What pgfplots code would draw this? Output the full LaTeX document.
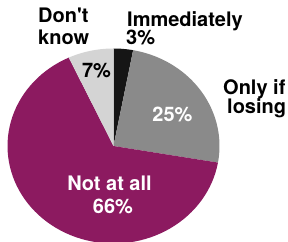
\documentclass[border=0pt]{standalone}
\usepackage{pgfplots}
\pgfplotsset{compat=1.18}
\usepackage{pgfplotstable}
\usepackage{fontspec}
\setmainfont{TeX Gyre Heros}
\definecolor{pblack}{HTML}{151515}
\definecolor{pgray}{HTML}{8A8A8A}
\definecolor{ppurple}{HTML}{8C1A60}
\definecolor{plgray}{HTML}{D4D4D4}
\pgfplotstableread{
value color
3 pblack
25 pgray
66 ppurple
7 plgray
}\piedata
\begin{document}
\begin{tikzpicture}
\begin{axis}[
  scale only axis, width=288pt, height=241pt,
  xmin=0, xmax=288, ymin=0, ymax=241,
  hide axis, clip=true,
]
\xdef\cum{0}
\pgfplotsforeachungrouped \i in {0,...,3}{%
  \pgfplotstablegetelem{\i}{value}\of\piedata \let\val\pgfplotsretval
  \pgfplotstablegetelem{\i}{color}\of\piedata \let\col\pgfplotsretval
  \pgfmathsetmacro\angA{90-\cum/101*360}%
  \pgfmathsetmacro\angB{90-(\cum+\val)/101*360}%
  \edef\temp{\noexpand\addplot[fill=\col, draw=none, domain=\angB:\angA, samples=80]
    ({113.5+106*cos(x)},{95+97.5*sin(x)}) -- (axis cs:113.5,95) -- cycle;}%
  \temp
  \pgfmathsetmacro\newcum{\cum+\val}%
  \xdef\cum{\newcum}%
}
\tikzset{lab/.style={inner sep=0pt, font=\fontsize{20}{21}\selectfont\bfseries}}
\node[lab, anchor=base west] at (axis cs:38,218) {Don\textquotesingle t};
\node[lab, anchor=base west] at (axis cs:38,196.5) {know};
\node[lab, anchor=base west] at (axis cs:127,214.5) {Immediately};
\node[lab, anchor=base west] at (axis cs:126,196) {3\%};
\node[lab, anchor=base west] at (axis cs:223,146) {Only if};
\node[lab, anchor=base west] at (axis cs:227,127.5) {losing};
\node[lab, anchor=base, text=white] at (axis cs:172.5,119) {25\%};
\node[lab, anchor=base] at (axis cs:96.5,163) {7\%};
\node[lab, anchor=base, text=white] at (axis cs:109.5,51) {Not at all};
\node[lab, anchor=base, text=white] at (axis cs:113,28) {66\%};
\end{axis}
\pgfresetboundingbox
\useasboundingbox (current axis.south west) rectangle (current axis.north east);
\end{tikzpicture}
\end{document}
